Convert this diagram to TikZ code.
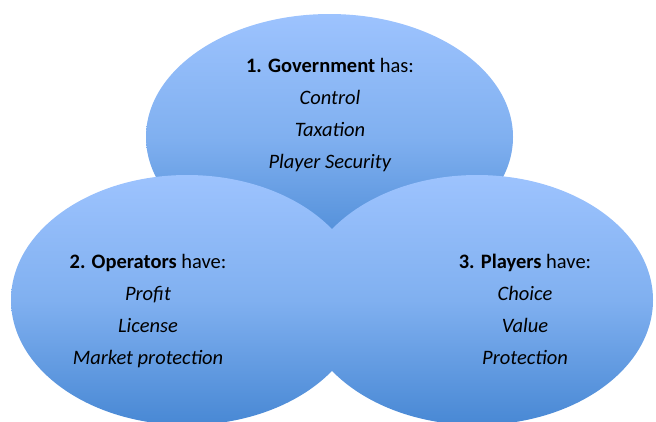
\documentclass[tikz,border=0pt]{standalone}
\usepackage{fontspec}
\setmainfont{Carlito}
\usetikzlibrary{shapes.geometric}
\definecolor{blobtop}{HTML}{9DC3FE}
\definecolor{blobmid}{HTML}{80B0F0}
\definecolor{blobbot}{HTML}{4888D4}
\tikzset{
  blob/.style={ellipse, inner sep=0pt, draw=none,
    top color=blobtop, bottom color=blobbot, middle color=blobmid},
  label/.style={align=center, inner sep=0pt,
    font=\fontsize{20.5}{32}\selectfont, text=black}
}
\begin{document}
\begin{tikzpicture}[x=1pt, y=-1pt]
  \useasboundingbox (0,0) rectangle (656,421);
  % the three overlapping ellipses
  \node[blob, minimum width=367pt, minimum height=246pt] (gov) at (329.5,137) {};
  \node[blob, minimum width=352pt, minimum height=250pt] (ops) at (187,300) {};
  \node[blob, minimum width=352pt, minimum height=250pt] (pla) at (477,300) {};
  % texts
  \node[label] (govtext) at (330,115.5) {\textbf{1. Government} has:\\ \textit{Control}\\ \textit{Taxation}\\ \textit{Player Security}};
  \node[label] (opstext) at (148,311) {\textbf{2. Operators} have:\\ \textit{Profit}\\ \textit{License}\\ \textit{Market protection}};
  \node[label] (platext) at (525,309) {\textbf{3. Players} have:\\ \textit{Choice}\\ \textit{Value}\\ \textit{Protection}};
\end{tikzpicture}
\end{document}
